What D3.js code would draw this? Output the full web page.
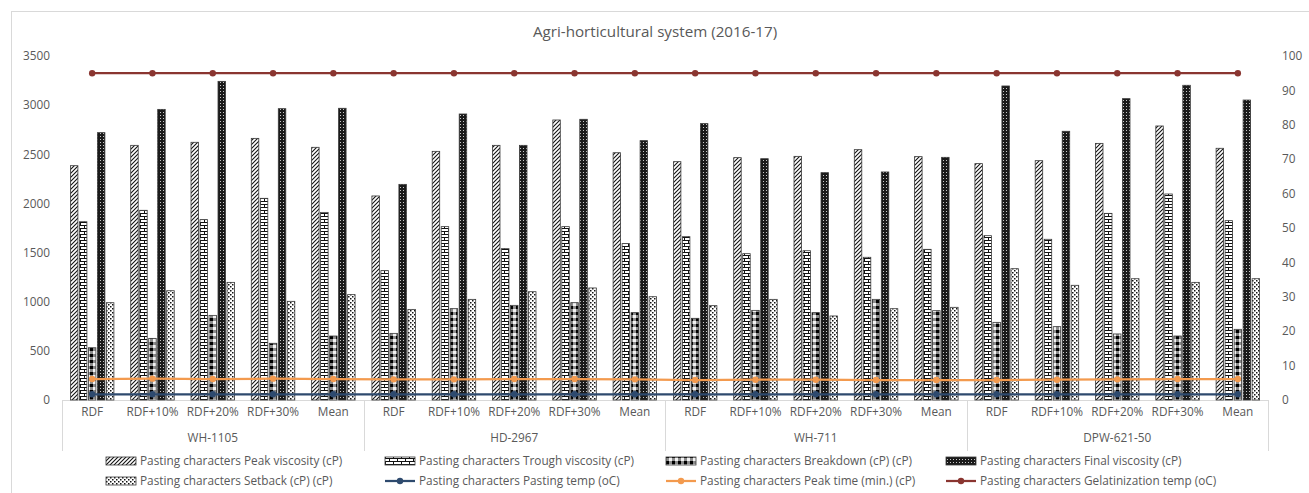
<!DOCTYPE html>
<html>
<head>
<meta charset="utf-8">
<script src="https://cdn.jsdelivr.net/npm/d3@7"></script>
<style>
  body { margin: 0; background: #fff; }
  svg { display: block; }
  text { font-family: "Open Sans", sans-serif; fill: #595959; }
</style>
</head>
<body>
<svg id="chart" width="1309" height="493"></svg>
<script>
// Pasting characters of four wheat varieties under fertiliser levels
const varieties = ["WH-1105", "HD-2967", "WH-711", "DPW-621-50"];
const treatments = ["RDF", "RDF+10%", "RDF+20%", "RDF+30%", "Mean"];

// Bar series (cP), left axis, 20 points: variety x treatment
const peakViscosity   = [2384, 2591, 2622, 2662, 2571,  2076, 2530, 2591, 2849, 2516,  2425, 2466, 2479, 2547, 2476,  2405, 2435, 2611, 2788, 2561];
const troughViscosity = [1814, 1930, 1835, 2052, 1909,  1316, 1764, 1540, 1764, 1591,  1662, 1489, 1519, 1452, 1533,  1672, 1635, 1899, 2096, 1825];
const breakdown       = [ 532,  627,  861,  577,  651,   678,  929,  963,  990,  889,   831,  912,  889, 1024,  909,   790,  746,  672,  651,  719];
const finalViscosity  = [2720, 2957, 3242, 2964, 2968,  2194, 2910, 2591, 2856, 2639,  2812, 2455, 2313, 2320, 2469,  3195, 2734, 3066, 3202, 3052];
const setback         = [ 990, 1112, 1197, 1004, 1072,   922, 1024, 1102, 1140, 1051,   960, 1024,  855,  929,  943,  1336, 1167, 1234, 1197, 1234];

// Line series
const pastingTemp       = [58, 58, 58, 58, 58,  58, 58, 58, 58, 58,  58, 58, 58, 58, 58,  58, 58, 58, 58, 58];                       // left axis
const peakTime          = [6.1, 6.2, 6.1, 6.2, 6.1,  6.0, 6.0, 6.1, 6.1, 6.0,  5.8, 5.9, 5.9, 5.8, 5.8,  5.8, 5.9, 6.0, 6.1, 6.1]; // right axis
const gelatinization    = [95, 95, 95, 95, 95,  95, 95, 95, 95, 95,  95, 95, 95, 95, 95,  95, 95, 95, 95, 95];                       // right axis

const leftTicks  = [0, 500, 1000, 1500, 2000, 2500, 3000, 3500];
const rightTicks = [0, 10, 20, 30, 40, 50, 60, 70, 80, 90, 100];

const titleText = "Agri-horticultural system (2016-17)";

const barSeries = [
  { key: "peak",   name: "Pasting characters Peak viscosity (cP)",   values: peakViscosity },
  { key: "trough", name: "Pasting characters Trough viscosity (cP)", values: troughViscosity },
  { key: "break",  name: "Pasting characters Breakdown (cP) (cP)",   values: breakdown },
  { key: "final",  name: "Pasting characters Final viscosity (cP)",  values: finalViscosity },
  { key: "setb",   name: "Pasting characters Setback (cP) (cP)",     values: setback }
];
const lineSeries = [
  { name: "Pasting characters Pasting temp (oC)",         values: pastingTemp,    axis: "left",  color: "#2e4a6e" },
  { name: "Pasting characters Peak time (min.) (cP)",     values: peakTime,       axis: "right", color: "#f39a4e" },
  { name: "Pasting characters Gelatinization temp (oC)",  values: gelatinization, axis: "right", color: "#8a3530" }
];

const svg = d3.select("#chart");
const plot = { left: 62, right: 1268, top: 56, bottom: 400 };
const fs = 11.8;

// Chart frame
svg.append("rect").attr("x", 11.5).attr("y", 11.5).attr("width", 1400).attr("height", 600)
  .attr("fill", "none").attr("stroke", "#d9d9d9");

// Fill patterns
const defs = svg.append("defs");
function pat(id, w, h, bg) {
  const p = defs.append("pattern").attr("id", id).attr("patternUnits", "userSpaceOnUse")
    .attr("width", w).attr("height", h);
  p.append("rect").attr("width", w).attr("height", h).attr("fill", bg);
  return p;
}
pat("p-peak", 4, 4, "#fff").append("path")
  .attr("d", "M-1,1 L1,-1 M0,4 L4,0 M3,5 L5,3").attr("stroke", "#111").attr("stroke-width", 1.1);
{
  const p = pat("p-trough", 8, 6, "#fff");
  p.append("path").attr("d", "M0,0.5 H8 M0,3.5 H8 M0.5,0.5 V3.5 M4.5,3.5 V6")
    .attr("stroke", "#111").attr("stroke-width", 1);
}
{
  const p = pat("p-break", 6, 6, "#8c8c8c");
  p.append("rect").attr("x", 0).attr("y", 0).attr("width", 3).attr("height", 3).attr("fill", "#000");
  p.append("rect").attr("x", 3).attr("y", 3).attr("width", 3).attr("height", 3).attr("fill", "#f2f2f2");
}
{
  const p = pat("p-final", 3, 3, "#1a1a1a");
  p.append("rect").attr("x", 1).attr("y", 1).attr("width", 1).attr("height", 1).attr("fill", "#c8c8c8");
}
{
  const p = pat("p-setb", 4, 4, "#fff");
  p.append("rect").attr("x", 0).attr("y", 0).attr("width", 1.5).attr("height", 1.5).attr("fill", "#111");
  p.append("rect").attr("x", 2).attr("y", 2).attr("width", 1.5).attr("height", 1.5).attr("fill", "#111");
}

// Scales
const idx = d3.range(peakViscosity.length);
const x0 = d3.scaleBand().domain(idx).range([plot.left, plot.right]).padding(0);
const clusterW = 43.5;
const x1 = d3.scaleBand().domain(barSeries.map(s => s.key))
  .range([(x0.bandwidth() - clusterW) / 2, (x0.bandwidth() + clusterW) / 2])
  .paddingInner(0.167).paddingOuter(0);
const yL = d3.scaleLinear().domain([0, 3500]).range([plot.bottom, plot.top]);
const yR = d3.scaleLinear().domain([0, 100]).range([plot.bottom, plot.top]);

// Title
svg.append("text").attr("x", 655).attr("y", 37).attr("text-anchor", "middle")
  .attr("font-size", 15.2).text(titleText);

// Value axes
const gL = svg.append("g").attr("transform", `translate(${plot.left},0)`)
  .call(d3.axisLeft(yL).tickValues(leftTicks).tickFormat(d3.format("d")).tickSize(0).tickPadding(12));
gL.select(".domain").remove();
gL.selectAll("text").attr("font-size", fs).attr("fill", "#595959").style("font-family", "Open Sans");

const gR = svg.append("g").attr("transform", `translate(${plot.right},0)`)
  .call(d3.axisRight(yR).tickValues(rightTicks).tickFormat(d3.format("d")).tickSize(0).tickPadding(14));
gR.select(".domain").remove();
gR.selectAll("text").attr("font-size", fs).attr("fill", "#595959").style("font-family", "Open Sans");

// Category axis
const gX = svg.append("g").attr("transform", `translate(0,${plot.bottom})`)
  .call(d3.axisBottom(x0).tickSize(0).tickPadding(8).tickFormat(i => treatments[i % treatments.length]));
gX.select(".domain").remove();
gX.selectAll("text").attr("font-size", fs).attr("fill", "#595959").style("font-family", "Open Sans");

svg.append("line").attr("x1", plot.left).attr("x2", plot.right)
  .attr("y1", plot.bottom + 0.5).attr("y2", plot.bottom + 0.5).attr("stroke", "#d9d9d9");

const groupEdges = d3.range(varieties.length + 1).map(g => g * treatments.length);
svg.selectAll(".sep").data(groupEdges).join("line")
  .attr("x1", d => Math.round(d < idx.length ? x0(d) : plot.right) + 0.5)
  .attr("x2", d => Math.round(d < idx.length ? x0(d) : plot.right) + 0.5)
  .attr("y1", plot.bottom).attr("y2", plot.bottom + 51)
  .attr("stroke", "#d9d9d9");

svg.selectAll(".grp").data(varieties).join("text")
  .attr("x", (d, g) => (x0(g * 5) + x0(g * 5 + 4) + x0.bandwidth()) / 2)
  .attr("y", 442).attr("text-anchor", "middle").attr("font-size", fs).text(d => d);

// Bars
const barsG = svg.append("g");
barSeries.forEach(s => {
  barsG.append("g").selectAll("rect").data(s.values).join("rect")
    .attr("x", (d, i) => x0(i) + x1(s.key))
    .attr("y", d => yL(d))
    .attr("width", x1.bandwidth())
    .attr("height", d => yL(0) - yL(d))
    .attr("fill", `url(#p-${s.key})`)
    .attr("stroke", "#3a3a3a").attr("stroke-width", 0.8);
});

// Lines with markers
const cx = i => x0(i) + x0.bandwidth() / 2;
lineSeries.forEach(s => {
  const y = s.axis === "left" ? yL : yR;
  svg.append("path").datum(s.values)
    .attr("fill", "none").attr("stroke", s.color).attr("stroke-width", 2.25)
    .attr("d", d3.line().x((d, i) => cx(i)).y(d => y(d)));
  svg.append("g").selectAll("circle").data(s.values).join("circle")
    .attr("cx", (d, i) => cx(i)).attr("cy", d => y(d)).attr("r", 3.2)
    .attr("fill", s.color);
});

// Legend
const legendCols = [106, 385, 666, 946];
const legendRows = [461, 481];
const legendItems = [
  { type: "bar", s: barSeries[0] }, { type: "bar", s: barSeries[1] },
  { type: "bar", s: barSeries[2] }, { type: "bar", s: barSeries[3] },
  { type: "bar", s: barSeries[4] }, { type: "line", s: lineSeries[0] },
  { type: "line", s: lineSeries[1] }, { type: "line", s: lineSeries[2] }
];
legendItems.forEach((it, k) => {
  const lx = legendCols[k % 4], ly = legendRows[Math.floor(k / 4)];
  const g = svg.append("g").attr("transform", `translate(${lx},${ly})`);
  if (it.type === "bar") {
    g.append("rect").attr("x", 0).attr("y", -4).attr("width", 30).attr("height", 8)
      .attr("fill", `url(#p-${it.s.key})`).attr("stroke", "#3a3a3a").attr("stroke-width", 0.8);
  } else {
    g.append("line").attr("x1", 0).attr("x2", 30).attr("y1", 0).attr("y2", 0)
      .attr("stroke", it.s.color).attr("stroke-width", 2.25);
    g.append("circle").attr("cx", 15).attr("cy", 0).attr("r", 3.2).attr("fill", it.s.color);
  }
  g.append("text").attr("x", 34).attr("y", 0).attr("dy", "0.35em")
    .attr("font-size", fs).text(it.s.name);
});
</script>
</body>
</html>
